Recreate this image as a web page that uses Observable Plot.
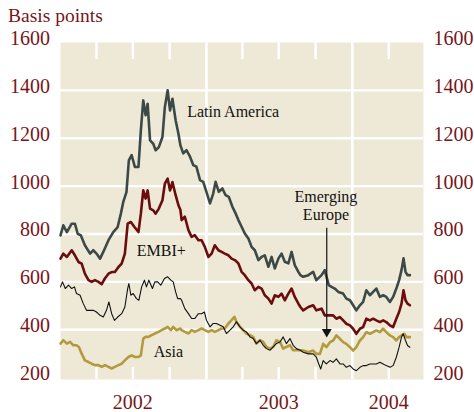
<!DOCTYPE html>
<html>
<head>
<meta charset="utf-8">
<script src="https://cdn.jsdelivr.net/npm/d3@7"></script>
<script src="https://cdn.jsdelivr.net/npm/@observablehq/plot@0.6"></script>
<style>
  html, body { margin: 0; padding: 0; background: #fff; }
  #chart { width: 474px; height: 412px; }
</style>
</head>
<body>
<div id="chart"></div>
<script>
const titleText = "Basis points";
const yTicks = [200, 400, 600, 800, 1000, 1200, 1400, 1600];
const gridValues = [400, 600, 800, 1000, 1200, 1400];
const yearLines = ["2003-01-01", "2004-01-01"];
const quarterTicks = ["2002-04-01", "2002-07-01", "2002-10-01", "2003-04-01", "2003-07-01", "2003-10-01", "2004-04-01"];
const yearLabelDates = ["2002-07-01", "2003-07-01", "2004-04-01"];
const yearLabels = ["2002", "2003", "2004"];

const latinAmerica = [
  ["2002-01-01",794],["2002-01-08",836],["2002-01-17",808],["2002-01-29",843],["2002-02-06",843],["2002-02-13",801],
  ["2002-02-21",794],["2002-03-03",753],["2002-03-16",718],["2002-03-24",732],["2002-04-01",718],["2002-04-10",697],
  ["2002-04-18",725],["2002-05-01",774],["2002-05-13",808],["2002-05-24",829],["2002-06-01",885],["2002-06-07",934],
  ["2002-06-15",975],["2002-06-21",1108],["2002-06-28",1129],["2002-07-06",1080],["2002-07-15",1080],["2002-07-21",1233],
  ["2002-07-27",1358],["2002-08-02",1296],["2002-08-07",1344],["2002-08-13",1191],["2002-08-21",1177],["2002-08-27",1150],
  ["2002-09-04",1163],["2002-09-13",1205],["2002-09-19",1330],["2002-09-26",1400],["2002-10-02",1316],["2002-10-08",1365],
  ["2002-10-16",1275],["2002-10-23",1219],["2002-10-28",1170],["2002-11-04",1137],["2002-11-12",1150],["2002-11-21",1123],
  ["2002-11-29",1088],["2002-12-07",1081],["2002-12-16",1025],["2002-12-24",1018],["2003-01-01",976],["2003-01-10",928],
  ["2003-01-18",969],["2003-01-24",1018],["2003-02-01",976],["2003-02-10",990],["2003-02-18",962],["2003-02-26",955],
  ["2003-03-07",914],["2003-03-15",886],["2003-03-22",858],["2003-03-30",830],["2003-04-07",802],["2003-04-16",781],
  ["2003-04-24",746],["2003-05-02",732],["2003-05-11",691],["2003-05-19",704],["2003-05-27",711],["2003-06-05",663],
  ["2003-06-13",704],["2003-06-21",656],["2003-06-30",697],["2003-07-08",718],["2003-07-16",684],["2003-07-25",677],
  ["2003-08-02",725],["2003-08-10",670],["2003-08-19",642],["2003-08-24",628],["2003-08-31",621],["2003-09-13",628],
  ["2003-09-25",642],["2003-10-03",607],["2003-10-16",628],["2003-10-24",649],["2003-11-03",586],["2003-11-10",579],
  ["2003-11-18",572],["2003-11-27",558],["2003-12-09",551],["2003-12-17",530],["2003-12-26",523],["2004-01-03",502],
  ["2004-01-11",481],["2004-01-20",502],["2004-01-28",516],["2004-02-05",565],["2004-02-14",544],["2004-02-22",558],
  ["2004-03-01",572],["2004-03-10",537],["2004-03-18",544],["2004-03-26",537],["2004-04-04",516],["2004-04-12",537],
  ["2004-04-20",572],["2004-04-27",607],["2004-05-03",649],["2004-05-08",698],["2004-05-13",642],["2004-05-18",628],
  ["2004-05-24",628]
];

const embi = [
  ["2002-01-01",697],["2002-01-08",718],["2002-01-17",704],["2002-01-29",732],["2002-02-06",711],["2002-02-15",683],
  ["2002-02-23",676],["2002-03-03",634],["2002-03-12",607],["2002-03-20",600],["2002-03-28",607],["2002-04-06",600],
  ["2002-04-14",590],["2002-04-22",614],["2002-05-01",634],["2002-05-09",641],["2002-05-17",641],["2002-05-26",662],
  ["2002-06-03",676],["2002-06-11",718],["2002-06-18",843],["2002-06-26",850],["2002-07-05",829],["2002-07-15",808],
  ["2002-07-21",885],["2002-07-27",982],["2002-08-02",948],["2002-08-07",982],["2002-08-13",906],["2002-08-21",899],
  ["2002-08-27",885],["2002-09-04",906],["2002-09-13",941],["2002-09-19",1010],["2002-09-26",1031],["2002-10-02",982],
  ["2002-10-08",1017],["2002-10-16",962],["2002-10-23",920],["2002-10-28",900],["2002-10-31",858],["2002-11-08",872],
  ["2002-11-17",816],["2002-11-25",788],["2002-12-03",795],["2002-12-12",774],["2002-12-20",774],["2002-12-28",746],
  ["2003-01-06",704],["2003-01-14",718],["2003-01-22",753],["2003-01-31",732],["2003-02-08",725],["2003-02-16",718],
  ["2003-02-25",711],["2003-03-05",697],["2003-03-13",691],["2003-03-22",677],["2003-03-30",642],["2003-04-07",628],
  ["2003-04-16",607],["2003-04-24",593],["2003-05-02",565],["2003-05-11",579],["2003-05-19",572],["2003-05-27",544],
  ["2003-06-05",530],["2003-06-13",509],["2003-06-21",544],["2003-06-30",537],["2003-07-08",551],["2003-07-16",523],
  ["2003-07-25",551],["2003-08-02",572],["2003-08-10",537],["2003-08-19",509],["2003-08-24",495],["2003-08-31",481],
  ["2003-09-13",495],["2003-09-25",502],["2003-10-03",481],["2003-10-16",488],["2003-10-24",460],["2003-11-03",460],
  ["2003-11-14",460],["2003-11-22",446],["2003-12-01",453],["2003-12-09",439],["2003-12-17",425],["2003-12-26",418],
  ["2004-01-03",404],["2004-01-11",383],["2004-01-20",404],["2004-01-28",411],["2004-02-05",446],["2004-02-14",439],
  ["2004-02-22",446],["2004-03-01",439],["2004-03-10",432],["2004-03-18",439],["2004-03-26",432],["2004-04-04",418],
  ["2004-04-12",411],["2004-04-20",446],["2004-04-27",474],["2004-05-03",509],["2004-05-08",565],["2004-05-13",523],
  ["2004-05-18",509],["2004-05-24",502]
];

const emergingEurope = [
  ["2002-01-01",579],["2002-01-06",600],["2002-01-13",572],["2002-01-21",586],["2002-01-29",572],["2002-02-05",579],
  ["2002-02-10",551],["2002-02-19",544],["2002-02-27",509],["2002-03-07",481],["2002-03-16",481],["2002-03-24",481],
  ["2002-04-01",474],["2002-04-10",460],["2002-04-18",453],["2002-04-26",481],["2002-05-02",516],["2002-05-09",467],
  ["2002-05-16",439],["2002-05-24",453],["2002-06-03",467],["2002-06-11",495],["2002-06-18",572],["2002-06-21",593],
  ["2002-06-26",544],["2002-07-02",551],["2002-07-10",530],["2002-07-16",523],["2002-07-23",579],["2002-07-30",607],
  ["2002-08-04",579],["2002-08-10",607],["2002-08-19",572],["2002-08-25",600],["2002-09-01",600],["2002-09-09",586],
  ["2002-09-18",614],["2002-09-26",621],["2002-10-04",607],["2002-10-10",600],["2002-10-16",558],["2002-10-21",530],
  ["2002-10-28",530],["2002-10-31",523],["2002-11-08",488],["2002-11-17",467],["2002-11-25",447],["2002-12-03",447],
  ["2002-12-12",467],["2002-12-20",467],["2002-12-27",474],["2003-01-01",440],["2003-01-10",412],["2003-01-18",426],
  ["2003-01-26",426],["2003-02-04",419],["2003-02-12",412],["2003-02-20",384],["2003-03-01",398],["2003-03-09",412],
  ["2003-03-17",433],["2003-03-26",412],["2003-04-03",398],["2003-04-11",391],["2003-04-20",370],["2003-04-28",363],
  ["2003-05-06",342],["2003-05-15",356],["2003-05-23",335],["2003-05-31",321],["2003-06-09",314],["2003-06-17",328],
  ["2003-06-25",342],["2003-07-04",349],["2003-07-12",370],["2003-07-20",342],["2003-07-29",363],["2003-08-06",335],
  ["2003-08-14",321],["2003-08-24",314],["2003-08-31",306],["2003-09-13",299],["2003-09-25",299],["2003-10-03",285],
  ["2003-10-09",257],["2003-10-14",236],["2003-10-20",271],["2003-10-28",257],["2003-11-06",271],["2003-11-14",264],
  ["2003-11-22",278],["2003-12-01",257],["2003-12-09",257],["2003-12-17",243],["2003-12-26",250],["2004-01-03",236],
  ["2004-01-11",229],["2004-01-20",243],["2004-01-28",250],["2004-02-05",250],["2004-02-14",257],["2004-02-22",257],
  ["2004-03-01",257],["2004-03-10",264],["2004-03-18",257],["2004-03-26",250],["2004-04-04",243],["2004-04-12",250],
  ["2004-04-20",285],["2004-04-27",327],["2004-05-03",369],["2004-05-07",383],["2004-05-13",355],["2004-05-18",334],
  ["2004-05-24",327]
];

const asia = [
  ["2002-01-01",342],["2002-01-08",356],["2002-01-17",342],["2002-01-25",349],["2002-02-02",335],["2002-02-10",335],
  ["2002-02-16",328],["2002-02-23",300],["2002-03-03",272],["2002-03-12",265],["2002-03-20",258],["2002-03-28",252],
  ["2002-04-06",252],["2002-04-14",245],["2002-04-22",252],["2002-05-01",245],["2002-05-09",238],["2002-05-17",245],
  ["2002-05-26",252],["2002-06-03",258],["2002-06-11",272],["2002-06-20",286],["2002-06-28",293],["2002-07-06",286],
  ["2002-07-15",286],["2002-07-21",293],["2002-07-27",363],["2002-08-02",370],["2002-08-09",370],["2002-08-17",377],
  ["2002-08-25",384],["2002-09-03",391],["2002-09-11",398],["2002-09-19",405],["2002-09-26",412],["2002-10-04",398],
  ["2002-10-10",412],["2002-10-18",398],["2002-10-28",405],["2002-10-31",398],["2002-11-08",391],["2002-11-17",384],
  ["2002-11-25",398],["2002-12-03",391],["2002-12-12",398],["2002-12-20",405],["2002-12-28",398],["2003-01-06",391],
  ["2003-01-14",398],["2003-01-22",391],["2003-01-31",398],["2003-02-08",405],["2003-02-16",405],["2003-02-25",426],
  ["2003-03-05",440],["2003-03-12",454],["2003-03-17",433],["2003-03-26",412],["2003-04-03",398],["2003-04-11",384],
  ["2003-04-20",377],["2003-04-28",370],["2003-05-06",342],["2003-05-15",356],["2003-05-23",349],["2003-05-31",328],
  ["2003-06-09",321],["2003-06-17",328],["2003-06-25",356],["2003-07-04",349],["2003-07-12",321],["2003-07-20",328],
  ["2003-07-29",335],["2003-08-06",314],["2003-08-14",314],["2003-08-24",314],["2003-08-31",313],["2003-09-13",306],
  ["2003-09-25",313],["2003-10-03",299],["2003-10-12",299],["2003-10-20",341],["2003-10-28",327],["2003-11-06",348],
  ["2003-11-14",355],["2003-11-22",376],["2003-12-01",362],["2003-12-09",348],["2003-12-17",341],["2003-12-26",327],
  ["2004-01-03",313],["2004-01-11",327],["2004-01-20",355],["2004-01-28",369],["2004-02-05",390],["2004-02-14",383],
  ["2004-02-22",390],["2004-03-01",397],["2004-03-10",390],["2004-03-18",404],["2004-03-26",390],["2004-04-04",376],
  ["2004-04-12",369],["2004-04-20",355],["2004-04-27",369],["2004-05-03",376],["2004-05-10",383],["2004-05-16",369],
  ["2004-05-24",369]
];

const seriesLabels = [
  {text: "Latin America", date: "2003-03-09", value: 1312},
  {text: "EMBI+", date: "2002-09-10", value: 731},
  {text: "Asia", date: "2002-09-28", value: 310},
  {text: "Emerging\nEurope", date: "2003-10-27", value: 920}
];
const arrowDate = "2003-10-29";
const arrowFrom = 824;
const arrowHeadValue = 391;

const D = s => new Date(s + "T00:00:00Z");
const toRows = arr => arr.map(([d, v]) => ({date: D(d), value: v}));

const beige = "#eee9d7";
const axisRed = "#76161a";

const chart = Plot.plot({
  width: 474,
  height: 412,
  marginLeft: 60,
  marginRight: 51,
  marginTop: 42,
  marginBottom: 33,
  style: {fontFamily: "'Liberation Serif', serif", fontSize: "20px", background: "white", overflow: "visible"},
  x: {type: "utc", domain: [D("2002-01-01"), D("2004-06-27")], label: null},
  y: {domain: [192, 1600], label: null},
  marks: [
    Plot.frame({fill: beige, stroke: null}),
    Plot.ruleY(gridValues, {stroke: "white", strokeWidth: 2.4}),
    Plot.ruleX(yearLines.map(D), {stroke: "white", strokeWidth: 2.6}),
    Plot.ruleX(quarterTicks.map(D), {stroke: "white", strokeWidth: 2.4, insetBottom: 320}),
    Plot.ruleX(quarterTicks.map(D), {stroke: "white", strokeWidth: 2.4, insetTop: 325}),
    Plot.line(toRows(asia), {x: "date", y: "value", stroke: "#b39a3d", strokeWidth: 2.6}),
    Plot.line(toRows(emergingEurope), {x: "date", y: "value", stroke: "#111", strokeWidth: 1.1}),
    Plot.line(toRows(embi), {x: "date", y: "value", stroke: "#6b0c0e", strokeWidth: 2.6}),
    Plot.line(toRows(latinAmerica), {x: "date", y: "value", stroke: "#3c4946", strokeWidth: 2.6}),
    Plot.ruleX([{date: D(arrowDate)}], {x: "date", y1: arrowFrom, y2: arrowHeadValue, stroke: "#111", strokeWidth: 1.2}),
    Plot.dot([{date: D(arrowDate), value: arrowHeadValue}], {x: "date", y: "value", symbol: "triangle", rotate: 180, r: 3.7, fill: "#111", stroke: null}),
    Plot.text(seriesLabels, {x: d => D(d.date), y: "value", text: "text", fontSize: 16, fill: "#111", lineHeight: 1.15, fontFamily: "'Liberation Serif', serif"}),
    Plot.axisY(yTicks, {anchor: "left", label: null, tickSize: 0, tickPadding: 10.5, dy: -4, fill: axisRed, fontSize: 20, tickFormat: d => String(d)}),
    Plot.axisY(yTicks, {anchor: "right", label: null, tickSize: 0, tickPadding: 10, dy: -4, fill: axisRed, fontSize: 20, tickFormat: d => String(d)}),
    Plot.axisX(yearLabelDates.map(D), {anchor: "bottom", label: null, tickSize: 0, tickPadding: 15, fill: axisRed, fontSize: 20,
      tickFormat: (d, i) => yearLabels[i]})
  ]
});

const svg = d3.select(chart);
svg.append("text")
  .attr("x", 8)
  .attr("y", 21.7)
  .attr("text-anchor", "start")
  .attr("fill", axisRed)
  .attr("font-family", "'Liberation Serif', serif")
  .attr("font-size", 19.5)
  .text(titleText);

document.getElementById("chart").appendChild(chart);
</script>
</body>
</html>
